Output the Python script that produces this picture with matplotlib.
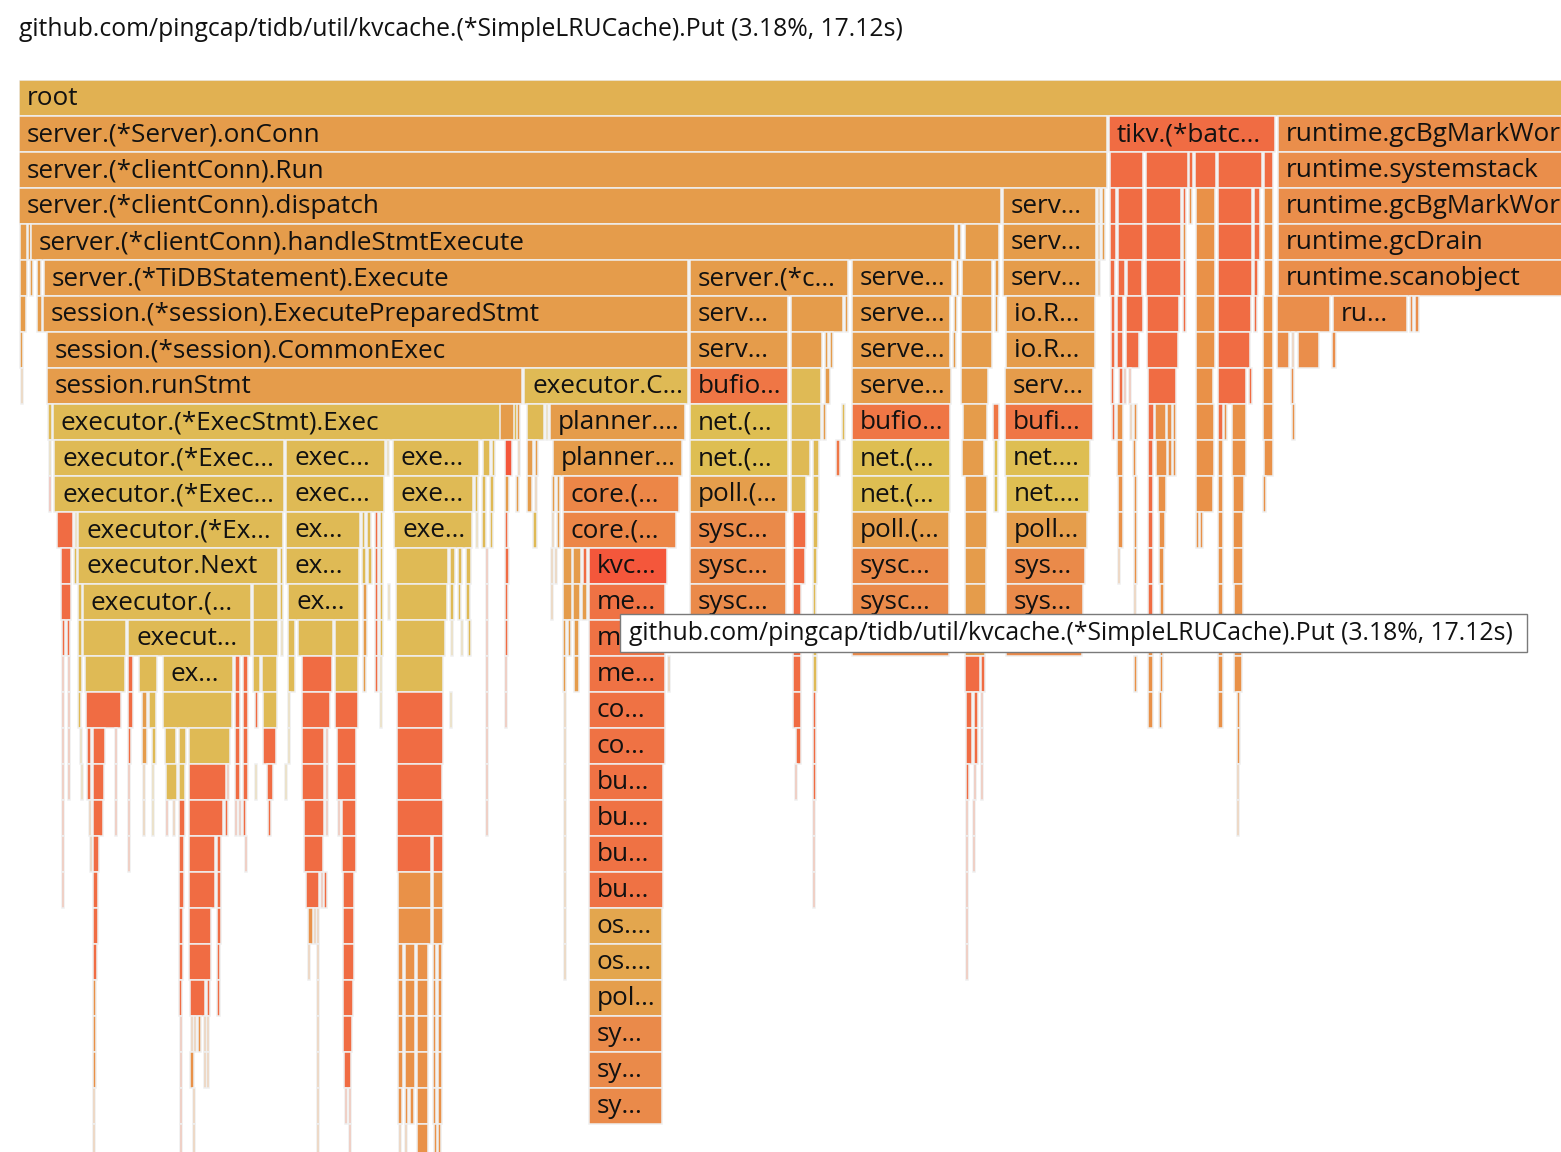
import matplotlib
matplotlib.use("Agg")
import matplotlib.pyplot as plt
from matplotlib.patches import Rectangle

# Flame graph of a TiDB CPU profile, zoomed so that the left part fills the view.
# Frames: (start, width, label, tone) in samples, one list per stack depth.
total_seconds = 538.4
hovered = "github.com/pingcap/tidb/util/kvcache.(*SimpleLRUCache).Put (3.18%, 17.12s)"

depth_00 = [(0, 2452, "root", "root")]
depth_01 = [
    (0, 1088, "server.(*Server).onConn", "srv"),
    (1090, 166, "tikv.(*batc…", "tikv"),
    (1259, 1190, "runtime.gcBgMarkWorker", "rt"),
]
depth_02 = [
    (0, 1088, "server.(*clientConn).Run", "srv"),
    (1091, 33, "", "tikv"), (1127, 42, "", "tikv"), (1170, 4, "", "tikv"),
    (1176, 21, "", "tikv"), (1199, 44, "", "tikv"), (1245, 9, "", "tikv"),
    (1259, 1190, "runtime.systemstack", "rt"),
]
depth_03 = [
    (0, 982, "server.(*clientConn).dispatch", "srv"),
    (984, 93, "serv…", "srv"), (1079, 2, "", "srv"), (1083, 3, "", "srv"),
    (1091, 6, "", "tikv"), (1099, 25, "", "tikv"), (1127, 35, "", "tikv"),
    (1164, 3, "", "tikv"), (1170, 3, "", "org"), (1177, 19, "", "org"),
    (1199, 34, "", "tikv"), (1235, 6, "", "tikv"), (1245, 9, "", "org"),
    (1259, 1190, "runtime.gcBgMarkWorker.func2", "rt"),
]
depth_04 = [
    (1, 7, "", "srv"), (9, 3, "", "srv"),
    (12, 924, "server.(*clientConn).handleStmtExecute", "srv"),
    (938, 4, "", "srv"), (946, 34, "", "srv"),
    (984, 93, "serv…", "srv"), (1079, 2, "", "srv"), (1083, 3, "", "srv"),
    (1091, 6, "", "tikv"), (1099, 25, "", "tikv"), (1127, 35, "", "tikv"),
    (1164, 3, "", "org"), (1177, 19, "", "org"),
    (1199, 34, "", "tikv"), (1235, 6, "", "tikv"), (1245, 9, "", "org"),
    (1259, 1190, "runtime.gcDrain", "rt"),
]
depth_05 = [
    (1, 7, "", "srv"), (11, 3, "", "srv"), (18, 4, "", "srv"),
    (25, 644, "server.(*TiDBStatement).Execute", "srv"),
    (671, 158, "server.(*c…", "srv"),
    (833, 100, "serve…", "srv"),
    (937, 3, "", "srv"), (943, 30, "", "srv"), (976, 4, "", "srv"),
    (984, 93, "serv…", "srv"), (1079, 2, "", "srv"),
    (1091, 5, "", "tikv"), (1099, 7, "", "tikv"), (1108, 15, "", "tikv"),
    (1127, 35, "", "tikv"), (1164, 3, "", "tikv"), (1177, 19, "", "org"),
    (1199, 34, "", "tikv"), (1235, 4, "", "tikv"), (1245, 9, "", "org"),
    (1259, 1190, "runtime.scanobject", "rt"),
]
depth_06 = [
    (1, 6, "", "srv"), (18, 5, "", "srv"),
    (24, 645, "session.(*session).ExecutePreparedStmt", "srv"),
    (671, 98, "serv…", "srv"), (772, 52, "", "srv"), (826, 3, "", "srv"),
    (833, 98, "serve…", "srv"), (935, 3, "", "srv"),
    (942, 31, "", "srv"), (976, 3, "", "srv"),
    (987, 89, "io.R…", "srv"),
    (1092, 4, "", "tikv"), (1098, 6, "", "tikv"), (1107, 17, "", "tikv"),
    (1128, 32, "", "tikv"), (1164, 3, "", "tikv"), (1177, 19, "", "org"),
    (1199, 33, "", "tikv"), (1235, 3, "", "tikv"), (1244, 10, "", "org"),
    (1258, 53, "", "rt"), (1314, 74, "ru…", "rt"), (1391, 3, "", "rt"), (1396, 4, "", "rt"),
]
depth_07 = [
    (1, 3, "", "srv"),
    (28, 641, "session.(*session).CommonExec", "srv"),
    (671, 98, "serv…", "srv"), (772, 31, "", "srv"), (806, 3, "", "srv"), (811, 3, "", "srv"),
    (833, 98, "serve…", "srv"), (934, 3, "", "srv"), (942, 31, "", "srv"),
    (987, 89, "io.R…", "srv"),
    (1092, 4, "", "tikv"), (1098, 6, "", "tikv"), (1107, 13, "", "tikv"),
    (1128, 31, "", "tikv"), (1177, 19, "", "org"),
    (1199, 32, "", "tikv"), (1244, 10, "", "org"),
    (1258, 12, "", "rt"), (1273, 2, "", "rt"), (1279, 21, "", "rt"), (1313, 4, "", "rt"),
]
depth_08 = [
    (2, 2, "", "srv"),
    (28, 475, "session.runStmt", "srv"),
    (505, 164, "executor.C…", "exe"),
    (671, 98, "bufio…", "bufio"), (772, 30, "", "exe"), (806, 5, "", "srv"),
    (833, 99, "serve…", "srv"), (942, 27, "", "srv"),
    (986, 88, "serv…", "srv"),
    (1092, 3, "", "tikv"), (1100, 4, "", "tikv"), (1105, 2, "", "tikv"), (1110, 2, "", "tikv"),
    (1129, 28, "", "tikv"), (1177, 17, "", "org"),
    (1199, 28, "", "tikv"), (1230, 3, "", "tikv"), (1244, 10, "", "org"),
    (1272, 3, "", "rt"),
]
depth_09 = [
    (29, 4, "", "exe"),
    (34, 465, "executor.(*ExecStmt).Exec", "exe"),
    (481, 14, "", "srv"), (498, 3, "", "srv"), (508, 17, "", "exe"), (527, 2, "", "exe"),
    (531, 135, "planner.…", "srv"),
    (671, 98, "net.(…", "net"), (772, 30, "", "exe"), (804, 3, "", "srv"), (823, 3, "", "exe"),
    (833, 98, "bufio…", "bufio"),
    (944, 24, "", "srv"), (974, 6, "", "bufio"),
    (986, 88, "bufi…", "bufio"),
    (1093, 3, "", "tikv"), (1098, 6, "", "org"), (1111, 2, "", "org"), (1115, 3, "", "org"),
    (1129, 6, "", "tikv"), (1136, 11, "", "org"), (1148, 5, "", "org"), (1154, 3, "", "org"),
    (1177, 18, "", "org"), (1199, 5, "", "tikv"), (1205, 3, "", "org"), (1213, 14, "", "org"),
    (1244, 10, "", "org"), (1273, 3, "", "org"),
]
depth_10 = [
    (30, 2, "", "exe"),
    (35, 230, "executor.(*Exec…", "exe"),
    (267, 99, "exec…", "exe"), (368, 2, "", "exe"),
    (374, 86, "exe…", "exe"), (464, 7, "", "exe"), (473, 3, "", "exe"),
    (486, 7, "", "kvc"), (499, 2, "", "srv"), (508, 6, "", "srv"), (516, 3, "", "srv"),
    (534, 129, "planner…", "srv"),
    (671, 98, "net.(…", "net"), (772, 19, "", "exe"), (794, 6, "", "exe"), (817, 4, "", "bufio"),
    (833, 98, "net.(…", "net"),
    (943, 22, "", "srv"), (975, 4, "", "net"),
    (986, 85, "net.…", "net"),
    (1098, 6, "", "org"), (1114, 3, "", "org"),
    (1129, 5, "", "tikv"), (1137, 11, "", "org"), (1149, 4, "", "org"), (1154, 3, "", "org"),
    (1177, 18, "", "org"), (1199, 5, "", "org"), (1213, 14, "", "org"), (1245, 9, "", "org"),
]
depth_11 = [
    (30, 2, "", "kvc"),
    (35, 230, "executor.(*Exec…", "exe"),
    (267, 98, "exec…", "exe"),
    (374, 80, "exe…", "exe"), (456, 3, "", "exe"), (463, 4, "", "exe"), (471, 4, "", "exe"),
    (486, 4, "", "srv"), (497, 3, "", "srv"), (508, 5, "", "srv"), (516, 2, "", "srv"),
    (533, 3, "", "srv"), (538, 3, "", "srv"),
    (544, 116, "core.(…", "core"),
    (671, 98, "poll.(…", "poll"), (772, 15, "", "exe"), (794, 6, "", "exe"),
    (833, 98, "net.(…", "net"),
    (946, 22, "", "srv"), (975, 4, "", "net"),
    (987, 83, "net.…", "net"),
    (1099, 5, "", "org"), (1115, 3, "", "org"), (1129, 5, "", "tikv"), (1139, 8, "", "org"),
    (1177, 17, "", "org"), (1199, 5, "", "org"), (1214, 11, "", "org"), (1244, 3, "", "org"),
]
depth_12 = [
    (38, 16, "", "tikv"), (56, 2, "", "exe"),
    (59, 205, "executor.(*Ex…", "exe"),
    (267, 74, "ex…", "exe"), (343, 3, "", "exe"), (348, 4, "", "exe"), (356, 3, "", "tikv"), (361, 3, "", "exe"),
    (375, 78, "exe…", "exe"), (457, 2, "", "exe"), (463, 4, "", "exe"), (471, 3, "", "exe"),
    (486, 3, "", "tikv"), (514, 4, "", "exe"), (533, 2, "", "srv"), (538, 3, "", "srv"),
    (544, 113, "core.(…", "core"),
    (671, 96, "sysc…", "sys"), (774, 13, "", "tikv"), (794, 5, "", "exe"),
    (833, 97, "poll.(…", "poll"),
    (946, 22, "", "srv"),
    (987, 81, "poll…", "poll"),
    (1099, 5, "", "org"), (1115, 3, "", "org"), (1129, 5, "", "tikv"), (1140, 6, "", "org"),
    (1177, 3, "", "org"), (1181, 3, "", "org"), (1199, 5, "", "org"), (1214, 10, "", "org"),
]
depth_13 = [
    (42, 10, "", "tikv"), (55, 3, "", "exe"),
    (59, 200, "executor.Next", "exe"), (261, 3, "", "exe"),
    (267, 73, "ex…", "exe"), (343, 4, "", "exe"), (349, 4, "", "exe"), (356, 3, "", "tikv"), (361, 3, "", "exe"),
    (377, 52, "", "exe"), (431, 5, "", "exe"), (439, 4, "", "exe"), (447, 5, "", "exe"),
    (467, 2, "", "tikv"), (486, 4, "", "tikv"),
    (532, 2, "", "srv"), (536, 2, "", "srv"),
    (544, 9, "", "srv"), (554, 8, "", "srv"), (564, 4, "", "tikv"),
    (570, 78, "kvc…", "kvc"),
    (671, 96, "sysc…", "sys"), (774, 12, "", "tikv"), (794, 4, "", "exe"),
    (833, 97, "sysc…", "sys"),
    (946, 21, "", "srv"),
    (987, 79, "sys…", "sys"),
    (1099, 2, "", "org"), (1115, 3, "", "org"), (1129, 5, "", "tikv"), (1140, 5, "", "org"),
    (1199, 5, "", "org"), (1214, 10, "", "org"),
]
depth_14 = [
    (42, 10, "", "tikv"), (59, 4, "", "exe"),
    (64, 168, "executor.(…", "exe"), (234, 25, "", "exe"), (261, 3, "", "exe"),
    (269, 71, "ex…", "exe"), (344, 4, "", "srv"), (356, 3, "", "tikv"), (361, 3, "", "exe"), (369, 2, "", "exe"),
    (377, 51, "", "exe"), (431, 4, "", "exe"), (439, 3, "", "exe"), (447, 4, "", "exe"),
    (467, 2, "", "tikv"), (486, 3, "", "tikv"),
    (532, 2, "", "srv"), (544, 9, "", "srv"), (554, 7, "", "srv"), (563, 5, "", "srv"),
    (570, 76, "me…", "me"),
    (671, 96, "sysc…", "sys"), (774, 8, "", "tikv"), (794, 3, "", "exe"),
    (833, 97, "sysc…", "sys"),
    (946, 21, "", "srv"),
    (987, 77, "sys…", "sys"),
    (1115, 2, "", "org"), (1129, 5, "", "tikv"), (1141, 4, "", "org"),
    (1199, 5, "", "org"), (1215, 9, "", "org"),
]
depth_15 = [
    (43, 3, "", "tikv"), (48, 3, "", "tikv"), (59, 4, "", "exe"),
    (64, 43, "", "exe"), (109, 123, "execut…", "exe"), (234, 25, "", "exe"), (262, 2, "", "exe"),
    (269, 7, "", "exe"), (279, 35, "", "exe"), (316, 24, "", "exe"), (344, 4, "", "srv"),
    (356, 3, "", "tikv"), (361, 3, "", "exe"),
    (377, 49, "", "exe"), (432, 2, "", "exe"), (442, 2, "", "exe"), (449, 3, "", "exe"),
    (467, 2, "", "tikv"), (486, 3, "", "tikv"),
    (544, 3, "", "srv"), (549, 3, "", "srv"), (555, 5, "", "srv"),
    (570, 76, "me…", "me"),
    (774, 8, "", "tikv"), (794, 4, "", "exe"),
    (833, 97, "", "sys"), (946, 20, "", "srv"), (987, 76, "", "sys"),
    (1129, 5, "", "org"), (1141, 3, "", "org"), (1199, 5, "", "org"), (1215, 8, "", "org"),
]
depth_16 = [
    (43, 2, "", "tikv"), (49, 2, "", "tikv"), (59, 4, "", "exe"),
    (66, 40, "", "exe"), (109, 5, "", "tikv"), (120, 18, "", "exe"),
    (144, 70, "ex…", "exe"), (216, 5, "", "tikv"), (224, 5, "", "tikv"),
    (234, 7, "", "exe"), (243, 15, "", "exe"), (269, 7, "", "exe"),
    (283, 30, "", "tikv"), (316, 23, "", "exe"), (344, 3, "", "srv"), (356, 3, "", "tikv"), (361, 2, "", "exe"),
    (377, 47, "", "exe"), (467, 2, "", "tikv"), (486, 2, "", "tikv"),
    (544, 3, "", "srv"), (555, 5, "", "srv"),
    (570, 76, "me…", "me"), (649, 2, "", "srv"),
    (774, 8, "", "tikv"), (794, 4, "", "exe"),
    (946, 15, "", "tikv"), (962, 4, "", "tikv"),
    (1115, 3, "", "org"), (1129, 5, "", "org"), (1141, 3, "", "org"), (1199, 5, "", "org"), (1215, 8, "", "org"),
]
depth_17 = [
    (43, 2, "", "tikv"), (49, 2, "", "tikv"), (59, 3, "", "exe"),
    (67, 35, "", "tikv"), (109, 5, "", "tikv"), (123, 5, "", "srv"), (130, 7, "", "exe"),
    (144, 69, "", "exe"), (216, 5, "", "tikv"), (224, 5, "", "tikv"), (236, 3, "", "tikv"),
    (244, 14, "", "exe"), (269, 2, "", "exe"),
    (283, 28, "", "tikv"), (316, 23, "", "tikv"), (361, 2, "", "exe"),
    (378, 46, "", "tikv"), (431, 2, "", "exe"), (467, 2, "", "tikv"), (486, 2, "", "tikv"),
    (545, 2, "", "srv"),
    (570, 76, "co…", "me"),
    (774, 8, "", "tikv"), (794, 3, "", "tikv"),
    (947, 6, "", "tikv"), (955, 4, "", "tikv"), (962, 2, "", "tikv"),
    (1129, 5, "", "org"), (1140, 3, "", "org"), (1199, 5, "", "org"), (1218, 3, "", "org"),
]
depth_18 = [
    (43, 2, "", "tikv"), (49, 2, "", "tikv"), (61, 2, "", "exe"),
    (68, 4, "", "tikv"), (74, 12, "", "tikv"), (96, 2, "", "tikv"), (109, 3, "", "tikv"),
    (123, 5, "", "srv"), (133, 4, "", "exe"),
    (146, 11, "", "exe"), (160, 7, "", "exe"), (170, 41, "", "exe"),
    (216, 5, "", "tikv"), (224, 5, "", "tikv"), (244, 13, "", "tikv"), (269, 2, "", "exe"),
    (283, 22, "", "tikv"), (307, 2, "", "tikv"), (318, 19, "", "tikv"),
    (378, 46, "", "tikv"), (467, 2, "", "tikv"),
    (545, 2, "", "srv"),
    (570, 76, "co…", "me"),
    (777, 5, "", "tikv"), (794, 3, "", "tikv"),
    (947, 6, "", "tikv"), (955, 4, "", "tikv"), (962, 2, "", "tikv"),
    (1218, 3, "", "org"),
]
depth_19 = [
    (43, 2, "", "tikv"), (49, 2, "", "tikv"), (62, 2, "", "exe"),
    (68, 4, "", "tikv"), (74, 11, "", "tikv"), (96, 2, "", "tikv"), (109, 2, "", "tikv"),
    (124, 2, "", "srv"), (133, 2, "", "exe"),
    (147, 11, "", "exe"), (160, 6, "", "exe"), (170, 37, "", "tikv"), (208, 2, "", "tikv"),
    (216, 5, "", "tikv"), (224, 5, "", "tikv"), (236, 2, "", "exe"), (248, 6, "", "tikv"), (266, 2, "", "exe"),
    (283, 22, "", "tikv"), (307, 2, "", "tikv"), (318, 19, "", "tikv"),
    (378, 45, "", "tikv"), (467, 2, "", "tikv"),
    (545, 2, "", "srv"),
    (570, 74, "bu…", "me"),
    (776, 2, "", "tikv"), (794, 3, "", "tikv"),
    (947, 3, "", "tikv"), (955, 2, "", "tikv"), (962, 2, "", "tikv"),
    (1218, 2, "", "org"),
]
depth_20 = [
    (43, 2, "", "tikv"), (70, 2, "", "org"), (74, 10, "", "tikv"), (96, 2, "", "tikv"), (109, 2, "", "tikv"),
    (124, 2, "", "srv"), (133, 2, "", "exe"),
    (147, 2, "", "tikv"), (154, 2, "", "org"), (160, 6, "", "tikv"), (170, 34, "", "tikv"), (206, 3, "", "tikv"),
    (216, 2, "", "tikv"), (220, 2, "", "tikv"), (224, 3, "", "tikv"), (249, 3, "", "tikv"),
    (285, 20, "", "tikv"), (307, 2, "", "tikv"), (319, 2, "", "tikv"), (323, 14, "", "tikv"),
    (378, 46, "", "tikv"), (467, 2, "", "tikv"),
    (545, 2, "", "srv"),
    (570, 74, "bu…", "me"),
    (794, 2, "", "tikv"),
    (947, 2, "", "tikv"), (954, 2, "", "tikv"),
    (1218, 2, "", "org"),
]
depth_21 = [
    (43, 2, "", "tikv"), (71, 2, "", "org"), (74, 6, "", "tikv"), (109, 2, "", "tikv"),
    (160, 5, "", "tikv"), (170, 26, "", "tikv"), (198, 4, "", "tikv"), (226, 2, "", "tikv"),
    (285, 19, "", "tikv"), (323, 14, "", "tikv"),
    (378, 34, "", "tikv"), (414, 10, "", "tikv"),
    (545, 2, "", "srv"),
    (570, 74, "bu…", "me"),
    (794, 2, "", "tikv"),
    (947, 2, "", "tikv"), (954, 2, "", "tikv"),
]
depth_22 = [
    (43, 2, "", "tikv"), (74, 5, "", "tikv"),
    (160, 5, "", "tikv"), (170, 26, "", "tikv"), (198, 4, "", "tikv"),
    (287, 13, "", "tikv"), (302, 2, "", "tikv"), (305, 3, "", "tikv"), (324, 11, "", "tikv"),
    (379, 33, "", "org"), (414, 10, "", "org"),
    (545, 2, "", "srv"),
    (570, 74, "bu…", "me"),
    (794, 2, "", "tikv"),
    (947, 2, "", "tikv"),
]
depth_23 = [
    (74, 5, "", "tikv"), (160, 4, "", "tikv"), (170, 22, "", "tikv"), (198, 4, "", "tikv"),
    (289, 5, "", "org"), (295, 2, "", "org"), (298, 2, "", "org"), (324, 11, "", "tikv"),
    (379, 33, "", "org"), (414, 10, "", "org"),
    (545, 2, "", "srv"),
    (570, 73, "os.…", "os"),
    (947, 2, "", "tikv"),
]
depth_24 = [
    (74, 4, "", "tikv"), (160, 4, "", "tikv"), (170, 22, "", "tikv"), (198, 3, "", "tikv"),
    (289, 2, "", "org"), (298, 2, "", "org"), (324, 11, "", "tikv"),
    (379, 5, "", "org"), (386, 10, "", "org"), (398, 11, "", "org"), (414, 3, "", "org"), (419, 4, "", "org"),
    (545, 2, "", "srv"),
    (570, 73, "os.…", "os"),
    (947, 2, "", "tikv"),
]
depth_25 = [
    (74, 3, "", "org"), (160, 3, "", "tikv"), (171, 15, "", "tikv"), (188, 3, "", "tikv"), (198, 3, "", "tikv"),
    (298, 2, "", "org"), (324, 10, "", "tikv"),
    (379, 5, "", "org"), (386, 10, "", "org"), (398, 11, "", "org"), (414, 3, "", "org"), (419, 4, "", "org"),
    (570, 73, "pol…", "poll"),
]
depth_26 = [
    (74, 3, "", "org"), (161, 2, "", "tikv"), (172, 2, "", "org"), (175, 2, "", "org"), (179, 3, "", "org"),
    (185, 2, "", "org"), (188, 2, "", "org"), (298, 2, "", "org"), (324, 9, "", "tikv"),
    (379, 5, "", "org"), (386, 10, "", "org"), (398, 11, "", "org"), (414, 3, "", "org"), (419, 4, "", "org"),
    (570, 73, "sy…", "sys"),
]
depth_27 = [
    (74, 3, "", "org"), (161, 2, "", "tikv"), (171, 4, "", "org"), (185, 2, "", "org"), (188, 2, "", "org"),
    (298, 2, "", "org"), (325, 7, "", "tikv"),
    (379, 5, "", "org"), (386, 10, "", "org"), (398, 11, "", "org"), (414, 3, "", "org"), (419, 4, "", "org"),
    (570, 73, "sy…", "sys"),
]
depth_28 = [
    (74, 2, "", "org"), (161, 2, "", "tikv"), (174, 2, "", "org"), (298, 2, "", "org"),
    (326, 2, "", "tikv"), (330, 2, "", "tikv"),
    (379, 4, "", "org"), (386, 3, "", "org"), (391, 4, "", "org"), (398, 11, "", "org"),
    (414, 3, "", "org"), (419, 4, "", "org"),
    (570, 73, "sy…", "sys"),
]
depth_29 = [
    (74, 2, "", "org"), (161, 2, "", "tikv"), (174, 2, "", "org"), (298, 2, "", "org"), (330, 2, "", "tikv"),
    (380, 2, "", "org"), (386, 2, "", "org"), (398, 11, "", "org"), (415, 3, "", "org"), (419, 3, "", "org"),
]

rows = [
    depth_00, depth_01, depth_02, depth_03, depth_04, depth_05, depth_06, depth_07,
    depth_08, depth_09, depth_10, depth_11, depth_12, depth_13, depth_14, depth_15,
    depth_16, depth_17, depth_18, depth_19, depth_20, depth_21, depth_22, depth_23,
    depth_24, depth_25, depth_26, depth_27, depth_28, depth_29,
]

# Cores de cada familia de funcoes
tones = {
    "root": "#e1b152",
    "srv": "#e59c4b",
    "tikv": "#f06c43",
    "rt": "#ea8e4b",
    "exe": "#dfba55",
    "net": "#debe52",
    "bufio": "#ef7645",
    "kvc": "#f4573b",
    "core": "#ec8647",
    "me": "#ef7244",
    "sys": "#ea8a4a",
    "poll": "#e59e4c",
    "os": "#e3a64e",
    "org": "#e99148",
}

W, H = 1561, 1152
font = ["Open Sans", "DejaVu Sans"]
fig = plt.figure(figsize=(W / 100, H / 100), dpi=100)

# Axes cover the flame area; 1 sample = 1 pixel in this zoomed view
top = 80
ax = fig.add_axes([19 / W, 0, (W - 19) / W, (H - top) / H])
ax.set_xlim(0, W - 19)
ax.set_ylim((H - top) / 36, 0)
ax.axis("off")

for depth, frames in enumerate(rows):
    for start, width, label, tone in frames:
        ax.add_patch(Rectangle((start, depth), width, 1, facecolor=tones[tone],
                               edgecolor="#efefef", linewidth=1.1))
        if label:
            ax.text(start + 8, depth + 0.52, label, va="center", ha="left",
                    fontsize=18.8, family=font, color="#111111", clip_on=True)

fig.text(19 / W, 1 - 30 / H, hovered, va="center", ha="left",
         fontsize=17.8, family=font, color="#111111")

# Tooltip over the hovered frame
fig.patches.append(Rectangle((620 / W, 1 - 652 / H), 907 / W, 38 / H,
                             transform=fig.transFigure, facecolor="white",
                             edgecolor="#7a7a7a", linewidth=1.0, zorder=5))
fig.text(629 / W, 1 - 633 / H, hovered, va="center", ha="left",
         fontsize=17.8, family=font, color="#111111", zorder=6)

fig.savefig("out.png", dpi=100)
